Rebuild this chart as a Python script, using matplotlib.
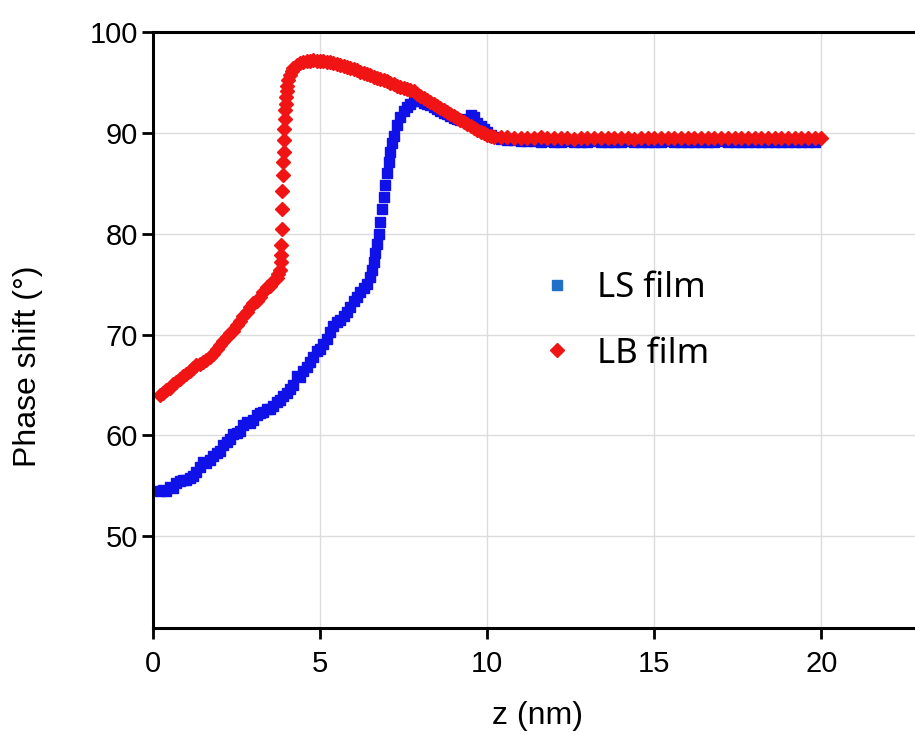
import matplotlib
matplotlib.use("Agg")
import matplotlib.pyplot as plt
from matplotlib.lines import Line2D

# --- Données ---
ls_z = [0.2, 0.3, 0.4, 0.5, 0.6, 0.7, 0.8, 0.9, 1.0, 1.1,
        1.2, 1.3, 1.4, 1.5, 1.6, 1.7, 1.8, 1.9, 2.0, 2.1,
        2.2, 2.3, 2.4, 2.5, 2.6, 2.7, 2.8, 2.9, 3.0, 3.1,
        3.2, 3.3, 3.4, 3.5, 3.6, 3.7, 3.8, 3.9, 4.0, 4.1,
        4.2, 4.3, 4.4, 4.5, 4.6, 4.7, 4.8, 4.9, 5.0, 5.1,
        5.2, 5.3, 5.4, 5.5, 5.6, 5.7, 5.8, 5.9, 6.0, 6.1,
        6.2, 6.3, 6.4, 6.5, 6.55, 6.6, 6.65, 6.7, 6.75, 6.8,
        6.85, 6.9, 6.95, 7.0, 7.05, 7.1, 7.15, 7.2, 7.3, 7.4,
        7.5, 7.6, 7.7, 7.8, 7.9, 8.0, 8.1, 8.2, 8.3, 8.4,
        8.5, 8.6, 8.7, 8.8, 8.9, 9.0, 9.1, 9.2, 9.3, 9.4,
        9.5, 9.6, 9.7, 9.8, 9.9, 10.0, 10.1, 10.2, 10.4, 10.6,
        10.8, 11.0, 11.2, 11.4, 11.6, 11.8, 12.0, 12.2, 12.4, 12.6,
        12.8, 13.0, 13.2, 13.4, 13.6, 13.8, 14.0, 14.2, 14.4, 14.6,
        14.8, 15.0, 15.2, 15.4, 15.6, 15.8, 16.0, 16.2, 16.4, 16.6,
        16.8, 17.0, 17.2, 17.4, 17.6, 17.8, 18.0, 18.2, 18.4, 18.6,
        18.8, 19.0, 19.2, 19.4, 19.6, 19.8]
ls_phase = [54.5, 54.6, 54.5, 54.9, 54.8, 55.3, 55.5, 55.6, 55.6, 55.8,
            56.0, 56.4, 56.9, 57.4, 57.3, 57.6, 58.0, 58.3, 58.5, 59.0,
            59.3, 59.6, 60.1, 60.2, 60.4, 61.0, 61.3, 61.2, 61.5, 62.0,
            62.2, 62.3, 62.6, 62.6, 62.9, 63.3, 63.5, 63.9, 64.2, 64.6,
            65.0, 65.9, 65.8, 66.4, 66.8, 67.3, 67.8, 68.4, 68.6, 69.1,
            69.6, 70.3, 70.8, 71.2, 71.4, 71.8, 72.2, 72.7, 73.3, 73.7,
            74.2, 74.6, 75.0, 75.7, 76.4, 77.2, 78.1, 79.0, 80.0, 81.2,
            82.4, 83.6, 84.8, 86.0, 87.1, 88.1, 89.0, 89.7, 90.8, 91.6,
            92.2, 92.6, 92.9, 93.2, 93.3, 93.2, 93.0, 92.9, 92.8, 92.6,
            92.4, 92.2, 92.0, 91.9, 91.7, 91.5, 91.4, 91.3, 91.2, 91.4,
            91.8, 91.6, 91.0, 90.7, 90.4, 90.1, 89.8, 89.6, 89.4, 89.3,
            89.3, 89.2, 89.2, 89.2, 89.1, 89.2, 89.1, 89.1, 89.2, 89.1,
            89.1, 89.1, 89.2, 89.1, 89.1, 89.1, 89.1, 89.2, 89.1, 89.1,
            89.1, 89.1, 89.1, 89.2, 89.1, 89.1, 89.1, 89.1, 89.1, 89.1,
            89.1, 89.2, 89.1, 89.1, 89.1, 89.1, 89.1, 89.1, 89.1, 89.1,
            89.1, 89.1, 89.1, 89.1, 89.1, 89.1]

lb_z = [0.2, 0.3, 0.4, 0.5, 0.6, 0.7, 0.8, 0.9, 1.0, 1.1,
        1.2, 1.3, 1.4, 1.5, 1.6, 1.7, 1.8, 1.9, 2.0, 2.1,
        2.2, 2.3, 2.4, 2.5, 2.6, 2.7, 2.8, 2.9, 3.0, 3.1,
        3.2, 3.3, 3.4, 3.5, 3.6, 3.7, 3.75, 3.8, 3.82, 3.83,
        3.84, 3.85, 3.86, 3.87, 3.88, 3.9, 3.91, 3.92, 3.93, 3.95,
        3.96, 3.97, 3.98, 4.0, 4.02, 4.05, 4.1, 4.15, 4.2, 4.3,
        4.4, 4.5, 4.6, 4.7, 4.8, 4.9, 5.0, 5.1, 5.2, 5.3,
        5.4, 5.5, 5.6, 5.7, 5.8, 5.9, 6.0, 6.1, 6.2, 6.3,
        6.4, 6.5, 6.6, 6.7, 6.8, 6.9, 7.0, 7.1, 7.2, 7.3,
        7.4, 7.5, 7.6, 7.7, 7.8, 7.9, 8.0, 8.1, 8.2, 8.3,
        8.4, 8.5, 8.6, 8.7, 8.8, 8.9, 9.0, 9.1, 9.2, 9.3,
        9.4, 9.5, 9.6, 9.7, 9.8, 9.9, 10.0, 10.1, 10.2, 10.4,
        10.6, 10.8, 11.0, 11.2, 11.4, 11.6, 11.8, 12.0, 12.2, 12.4,
        12.6, 12.8, 13.0, 13.2, 13.4, 13.6, 13.8, 14.0, 14.2, 14.4,
        14.6, 14.8, 15.0, 15.2, 15.4, 15.6, 15.8, 16.0, 16.2, 16.4,
        16.6, 16.8, 17.0, 17.2, 17.4, 17.6, 17.8, 18.0, 18.2, 18.4,
        18.6, 18.8, 19.0, 19.2, 19.4, 19.6, 19.8, 20.0]
lb_phase = [64.0, 64.2, 64.5, 64.7, 65.1, 65.3, 65.6, 65.9, 66.1, 66.4,
            66.7, 67.0, 67.1, 67.3, 67.5, 67.8, 68.1, 68.6, 69.0, 69.4,
            69.8, 70.2, 70.4, 70.9, 71.3, 71.8, 72.2, 72.7, 73.1, 73.3,
            73.7, 74.2, 74.7, 74.8, 75.3, 75.6, 76.0, 76.4, 77.2, 77.9,
            78.9, 80.5, 82.4, 84.2, 85.8, 87.1, 88.1, 89.3, 90.4, 91.4,
            92.3, 92.9, 93.6, 94.1, 94.6, 95.2, 95.7, 96.1, 96.4, 96.7,
            96.9, 97.0, 97.1, 97.1, 97.2, 97.1, 97.1, 97.1, 97.0, 97.0,
            96.9, 96.8, 96.7, 96.6, 96.5, 96.4, 96.3, 96.2, 96.0, 95.9,
            95.8, 95.7, 95.5, 95.4, 95.3, 95.2, 95.1, 94.9, 94.8, 94.6,
            94.5, 94.4, 94.3, 94.2, 94.1, 93.9, 93.7, 93.5, 93.3, 93.1,
            92.9, 92.7, 92.5, 92.3, 92.1, 91.9, 91.7, 91.5, 91.3, 91.1,
            90.9, 90.7, 90.5, 90.3, 90.1, 90.0, 89.8, 89.7, 89.6, 89.6,
            89.6, 89.5, 89.5, 89.5, 89.5, 89.6, 89.5, 89.5, 89.5, 89.5,
            89.4, 89.5, 89.5, 89.5, 89.5, 89.5, 89.5, 89.5, 89.5, 89.4,
            89.5, 89.5, 89.5, 89.5, 89.5, 89.5, 89.5, 89.5, 89.5, 89.5,
            89.5, 89.5, 89.5, 89.5, 89.5, 89.5, 89.5, 89.5, 89.5, 89.5,
            89.5, 89.5, 89.5, 89.5, 89.5, 89.5, 89.5, 89.5]

x_ticks = [0, 5, 10, 15, 20]
y_ticks = [50, 60, 70, 80, 90, 100]
labels = ["LS film", "LB film"]

# --- Figure ---
fig = plt.figure(figsize=(9.15, 7.34), dpi=100)
ax = fig.add_axes([153 / 915, 1 - 628 / 734, 1 - 153 / 915, (628 - 32) / 734])

ax.plot(ls_z, ls_phase, ls="none", marker="s", ms=7, color="#1010e8", mec="#1010e8")
ax.plot(lb_z, lb_phase, ls="none", marker="D", ms=7, color="#f01414", mec="#f01414")

ax.set_xlim(0, 22.8)
ax.set_ylim(40.9, 100)
ax.set_xticks(x_ticks)
ax.set_yticks(y_ticks)
ax.grid(True, color="#dcdcdc", linewidth=1)
ax.set_axisbelow(True)

for side in ["left", "bottom", "top"]:
    ax.spines[side].set_linewidth(2.2)
ax.spines["right"].set_visible(False)
ax.tick_params(axis="both", direction="out", length=8, width=2, labelsize=21,
               colors="black")
ax.tick_params(axis="y", pad=3)
ax.tick_params(axis="x", pad=8)
for lab in ax.get_xticklabels() + ax.get_yticklabels():
    lab.set_family("Liberation Sans")

fig.text(28 / 915, 1 - 366 / 734, "Phase shift (°)", rotation=90, ha="center", va="center",
         fontsize=23, family="Liberation Sans")
fig.text(538 / 915, 1 - 716 / 734, "z (nm)", ha="center", va="center",
         fontsize=23, family="Liberation Sans")

# Légende
handles = [
    Line2D([], [], ls="none", marker="s", ms=7, color="#1f6fc8"),
    Line2D([], [], ls="none", marker="D", ms=7, color="#f01414"),
]
ax.legend(handles, labels, loc="center left", bbox_to_anchor=(526 / 915, 1 - 321 / 734),
          bbox_transform=fig.transFigure, frameon=False, handletextpad=0.75,
          labelspacing=0.9, handlelength=0.8, borderpad=0,
          prop={"family": "Noto Sans", "size": 25})

fig.savefig("out.png", dpi=100)
